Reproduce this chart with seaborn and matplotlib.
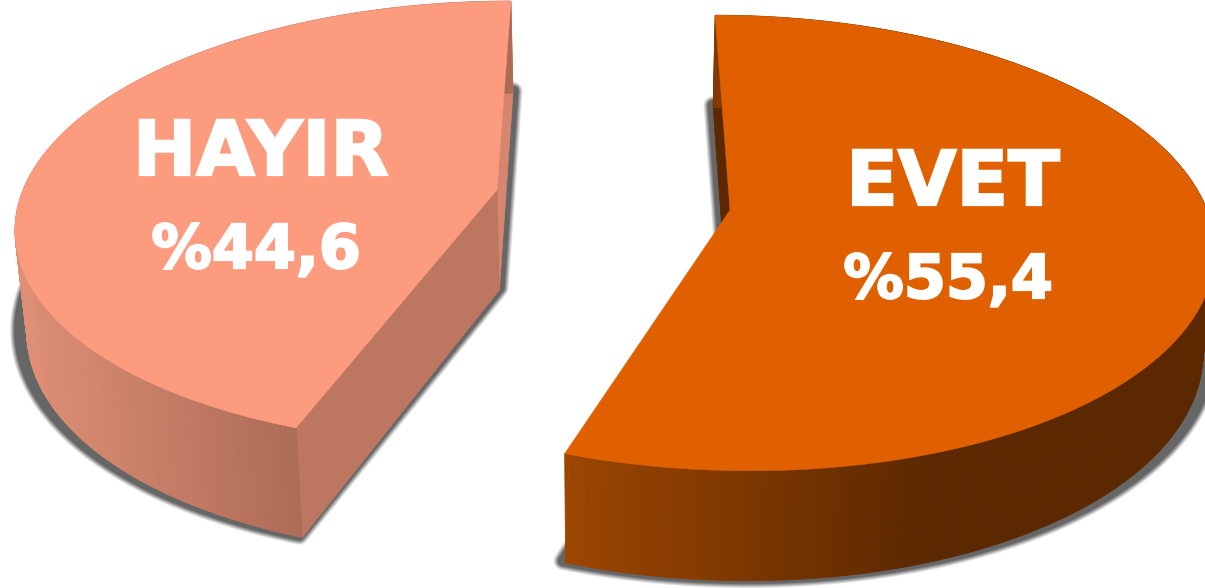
import numpy as np
import seaborn as sns
import matplotlib.pyplot as plt
import matplotlib.patheffects as pe

labels = ['EVET', 'HAYIR']
values = [55.4, 44.6]
top_colors = ['#E06000', '#FD9B7F']
cut_colors = ['#5C2800', '#BD7760']
back_colors = ['#5C2800', '#D6866F']
wall_from = ['#9C4600', '#DE8F76']
wall_to = ['#5C2800', '#AC6B55']

# projected geometry of each exploded slice, in pixels
geom = {
    'EVET': dict(cx=730, cy=210, rx=477, ry=223, sx=-17, k=0.145, sign=1, x0=565, x1=930),
    'HAYIR': dict(cx=497, cy=190, rx=474, ry=217, sx=16, k=0.1485, sign=-1, x0=24, x1=300),
}
name_pos = {'EVET': (953, 205), 'HAYIR': (261, 175)}
pct_pos = {'EVET': (948, 298), 'HAYIR': (256, 268)}


def rim(g, t):
    u, v = np.sin(np.radians(t)), np.cos(np.radians(t))
    w = 1 + g['k'] * v
    return g['cx'] + (g['rx'] * u + g['sx'] * v) / w, g['cy'] - g['ry'] * v / w, w


def floor(x, y, w):
    # walls drop straight down, converging slightly towards the middle
    return x + (613 - x) * 0.02, y + 100 / w ** 0.6


sns.set_theme(style='white')
plt.rcParams['font.family'] = ['DejaVu Sans']

fig = plt.figure(figsize=(12.05, 5.88), dpi=100)
ax = fig.add_axes([0, 0, 1, 1])
ax.set_xlim(0, 1205)
ax.set_ylim(588, 0)
ax.axis('off')

heavy = [pe.withStroke(linewidth=1.6, foreground='white', joinstyle='miter')]

for i, name in enumerate(labels):
    g = geom[name]
    sweep = values[i] / 100 * 360
    t = g['sign'] * np.linspace(0, sweep, 361)
    x, y, w = rim(g, t)
    bx, by = floor(x, y, w)
    ax_, ay_ = g['cx'], g['cy']
    abx, aby = floor(np.array([ax_]), np.array([ay_]), np.array([1.0]))

    # soft shadow under the slice, opaque rings from pale to dark
    sx_ = g['cx'] + (np.r_[bx, abx] - g['cx']) * 1.016
    sy_ = np.r_[by, aby] - 2
    radii = np.linspace(9.5, 5, 10)
    for lw, c in zip(radii, sns.blend_palette(['#F4F4F4', '#666666'], 10)):
        ax.fill(sx_, sy_, facecolor=c, edgecolor=c, linewidth=2 * lw * 0.72,
                joinstyle='round', zorder=1)

    # cut face at the back
    ax.fill([x[0], bx[0], abx[0], ax_], [y[0], by[0], aby[0], ay_],
            color=back_colors[i], linewidth=0.5, zorder=2)
    # cut face at the front
    if name == 'HAYIR':
        ax.fill([x[-1], bx[-1], abx[0], ax_], [y[-1], by[-1], aby[0], ay_],
                color=cut_colors[i], linewidth=0.5, zorder=2)

    # curved wall, shaded along x
    pal = sns.blend_palette([wall_from[i], wall_to[i]], 64)
    for j in range(len(t) - 1):
        f = (x[j] - g['x0']) / (g['x1'] - g['x0'])
        c = pal[int(np.clip(f, 0, 1) * 63)]
        ax.fill([x[j], x[j + 1], bx[j + 1], bx[j]], [y[j], y[j + 1], by[j + 1], by[j]],
                color=c, linewidth=0.6, zorder=3)

    # top of the slice
    ax.fill(np.r_[x, ax_], np.r_[y, ay_], color=top_colors[i], linewidth=0.3, zorder=4)

    ax.text(*name_pos[name], name, color='white', fontsize=54.5, fontweight='bold',
            ha='center', va='baseline', zorder=5, path_effects=heavy)
    pct = '%' + f'{values[i]:.1f}'.replace('.', ',')
    ax.text(*pct_pos[name], pct, color='white', fontsize=43.5, fontweight='bold',
            ha='center', va='baseline', zorder=5, path_effects=heavy)

fig.savefig('out.png', dpi=100)
